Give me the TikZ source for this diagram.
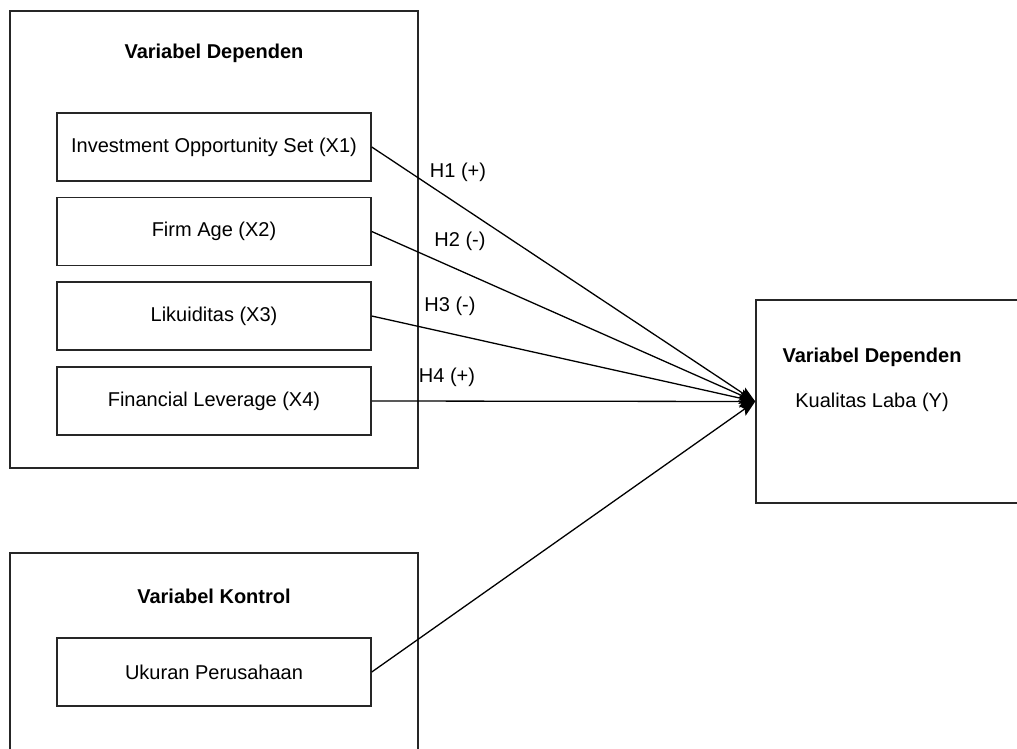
\documentclass[tikz,border=0pt]{standalone}
\usepackage{fontspec}
\setmainfont{Liberation Sans}
\usetikzlibrary{arrows.meta}
\begin{document}
\begin{tikzpicture}[x=1pt,y=-1pt,
  box/.style={draw=black!85,line width=1.5pt,rectangle,inner sep=0pt},
  inbox/.style={box,minimum width=314pt,minimum height=68pt,font=\fontsize{20pt}{24pt}\selectfont},
  ttl/.style={font=\fontsize{20pt}{24pt}\selectfont\bfseries,inner sep=0pt},
  txt/.style={font=\fontsize{20pt}{24pt}\selectfont,inner sep=0pt},
  arr/.style={line width=1.3pt,-{Stealth[length=16pt,width=12pt,inset=3pt]}}]
\useasboundingbox (0,0) rectangle (1017,749);
\clip (0,0) rectangle (1017,749);
% left group
\node[box,minimum width=408pt,minimum height=457pt] (g1) at (214,239.5) {};
\node[ttl] (t1) at (214,53) {Variabel Dependen};
\node[inbox] (x1) at (214,147) {Investment Opportunity Set (X1)};
\node[inbox] (x2) at (214,231.5) {Firm Age (X2)};
\node[inbox] (x3) at (214,316) {Likuiditas (X3)};
\node[inbox] (x4) at (214,401) {Financial Leverage (X4)};
% control group
\node[box,minimum width=408pt,minimum height=230pt] (g2) at (214,668) {};
\node[ttl] (t2) at (214,596) {Variabel Kontrol};
\node[inbox] (uk) at (214,672) {Ukuran Perusahaan};
% dependent
\node[box,minimum width=290pt,minimum height=203pt] (y) at (901,401.5) {};
\node[ttl] (t3) at (872,357) {Variabel Dependen};
\node[txt] (kl) at (872,402) {Kualitas Laba (Y)};
% arrows
\draw[arr] (x1.east) -- (y.west);
\draw[arr] (x2.east) -- (y.west);
\draw[arr] (x3.east) -- (y.west);
\draw[arr] (x4.east) -- (y.west);
\draw[arr] (uk.east) -- (y.west);
% labels
\node[txt] (h1) at (458,172) {H1 (+)};
\node[txt] (h2) at (460,241) {H2 (-)};
\node[txt] (h3) at (450,306) {H3 (-)};
\node[txt] (h4) at (447,377) {H4 (+)};
\end{tikzpicture}
\end{document}
